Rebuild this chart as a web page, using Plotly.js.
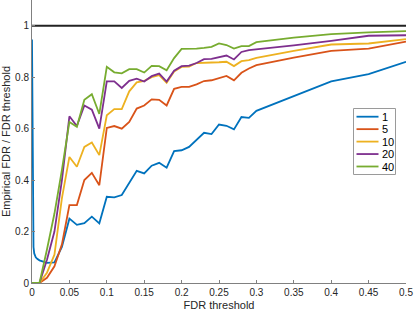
<!DOCTYPE html>
<html>
<head>
<meta charset="utf-8">
<script src="https://cdn.plot.ly/plotly-3.0.1.min.js"></script>
<style>html,body{margin:0;padding:0;background:#fff;}#chart{width:415px;height:312px;}</style>
</head>
<body>
<div id="chart"></div>
<script>
// FDR thresholds (x values)
const fdrThreshold = [0, 0.001, 0.002, 0.003, 0.005, 0.007, 0.01, 0.02, 0.03, 0.04, 0.05, 0.06, 0.07, 0.08, 0.09, 0.10, 0.11, 0.12, 0.13, 0.14, 0.15, 0.16, 0.17, 0.18, 0.19, 0.20, 0.21, 0.22, 0.23, 0.24, 0.25, 0.26, 0.27, 0.28, 0.29, 0.30, 0.35, 0.40, 0.45, 0.50];

const seriesNames = ['1', '5', '10', '20', '40'];

const series1 = [0.946, 0.40, 0.14, 0.115, 0.10, 0.094, 0.088, 0.078, 0.08, 0.14, 0.25, 0.226, 0.233, 0.258, 0.232, 0.335, 0.333, 0.342, 0.39, 0.436, 0.426, 0.456, 0.467, 0.448, 0.513, 0.516, 0.529, 0.558, 0.584, 0.579, 0.616, 0.611, 0.597, 0.645, 0.642, 0.669, 0.726, 0.784, 0.812, 0.86];
const series5 = [0, 0, 0, 0, 0, 0, 0, 0.02, 0.065, 0.15, 0.303, 0.303, 0.40, 0.428, 0.38, 0.603, 0.61, 0.60, 0.626, 0.678, 0.69, 0.714, 0.712, 0.69, 0.755, 0.762, 0.762, 0.772, 0.785, 0.788, 0.797, 0.805, 0.788, 0.817, 0.834, 0.847, 0.876, 0.902, 0.911, 0.938];
const series10 = [0, 0, 0, 0, 0, 0, 0, 0.04, 0.11, 0.33, 0.49, 0.452, 0.529, 0.546, 0.497, 0.652, 0.676, 0.676, 0.745, 0.78, 0.786, 0.80, 0.808, 0.778, 0.822, 0.84, 0.841, 0.855, 0.855, 0.857, 0.858, 0.86, 0.843, 0.862, 0.866, 0.875, 0.902, 0.927, 0.931, 0.948];
const series20 = [0, 0, 0, 0, 0, 0, 0, 0.09, 0.20, 0.40, 0.648, 0.61, 0.69, 0.674, 0.60, 0.784, 0.784, 0.758, 0.786, 0.794, 0.783, 0.804, 0.814, 0.783, 0.825, 0.843, 0.845, 0.855, 0.87, 0.871, 0.877, 0.884, 0.869, 0.898, 0.905, 0.908, 0.924, 0.941, 0.961, 0.963];
const series40 = [0, 0, 0, 0, 0, 0, 0, 0.13, 0.27, 0.44, 0.626, 0.607, 0.712, 0.734, 0.657, 0.84, 0.819, 0.815, 0.831, 0.831, 0.818, 0.844, 0.843, 0.827, 0.874, 0.91, 0.91, 0.911, 0.914, 0.918, 0.931, 0.925, 0.911, 0.921, 0.921, 0.936, 0.954, 0.967, 0.974, 0.979];

const refLineX = [0, 0.5];
const refLineY = [1, 1];

const xTicks = [0, 0.05, 0.1, 0.15, 0.2, 0.25, 0.3, 0.35, 0.4, 0.45, 0.5];
const yTicks = [0, 0.2, 0.4, 0.6, 0.8, 1];

const colors = ['#0072BD', '#D95319', '#EDB120', '#7E2F8E', '#77AC30'];
const allSeries = [series1, series5, series10, series20, series40];

const traces = [{
  x: refLineX, y: refLineY, mode: 'lines', showlegend: false, hoverinfo: 'skip',
  line: {color: '#222222', width: 2.2}
}];
allSeries.forEach((s, i) => {
  traces.push({x: fdrThreshold, y: s, mode: 'lines', name: seriesNames[i], showlegend: false,
    line: {color: colors[i], width: 1.8}});
});

// plot geometry (pixels) for custom legend placement
const W = 415, H = 312, mL = 32, mR = 9, mT = 0, mB = 29;
const pw = W - mL - mR, ph = H - mT - mB;
const px2x = p => (p - mL) / pw;
const px2y = p => (H - mB - p) / ph;

const shapes = [];
const annotations = [];
// legend box
shapes.push({type: 'rect', xref: 'paper', yref: 'paper', x0: px2x(353.5), x1: px2x(395.5), y0: px2y(174.5), y1: px2y(108.5),
  line: {color: '#9a9a9a', width: 1}, fillcolor: '#ffffff', layer: 'above'});
seriesNames.forEach((n, i) => {
  const py = 116.7 + i * 12.45;
  shapes.push({type: 'line', xref: 'paper', yref: 'paper', x0: px2x(356.5), x1: px2x(378.5), y0: px2y(py), y1: px2y(py),
    line: {color: colors[i], width: 1.8}, layer: 'above'});
  annotations.push({xref: 'paper', yref: 'paper', x: px2x(380), y: px2y(py), xanchor: 'left', yanchor: 'middle',
    text: n, showarrow: false, font: {family: 'Liberation Sans, Arial, sans-serif', size: 11, color: '#000000'}});
});

const axisCommon = {
  showline: true, linecolor: '#808080', linewidth: 1, mirror: false,
  ticks: 'inside', ticklen: 3, tickcolor: '#808080', tickwidth: 1,
  showgrid: false, zeroline: false,
  tickfont: {family: 'Liberation Sans, Arial, sans-serif', size: 10, color: '#262626'}
};

const layout = {
  width: W, height: H,
  margin: {l: mL, r: mR, t: mT, b: mB, pad: 0},
  paper_bgcolor: '#ffffff', plot_bgcolor: '#ffffff',
  showlegend: false,
  xaxis: Object.assign({}, axisCommon, {
    range: [0, 0.5], tickvals: xTicks, ticktext: xTicks.map(String),
    title: {text: 'FDR threshold', standoff: 4, font: {family: 'Liberation Sans, Arial, sans-serif', size: 11, color: '#262626'}}
  }),
  yaxis: Object.assign({}, axisCommon, {
    range: [0, 1.1], tickvals: yTicks, ticktext: yTicks.map(String),
    title: {text: 'Empirical FDR / FDR threshold', standoff: 3, font: {family: 'Liberation Sans, Arial, sans-serif', size: 11, color: '#262626'}}
  }),
  shapes: shapes,
  annotations: annotations
};

Plotly.newPlot('chart', traces, layout, {displayModeBar: false, staticPlot: true});
</script>
</body>
</html>
